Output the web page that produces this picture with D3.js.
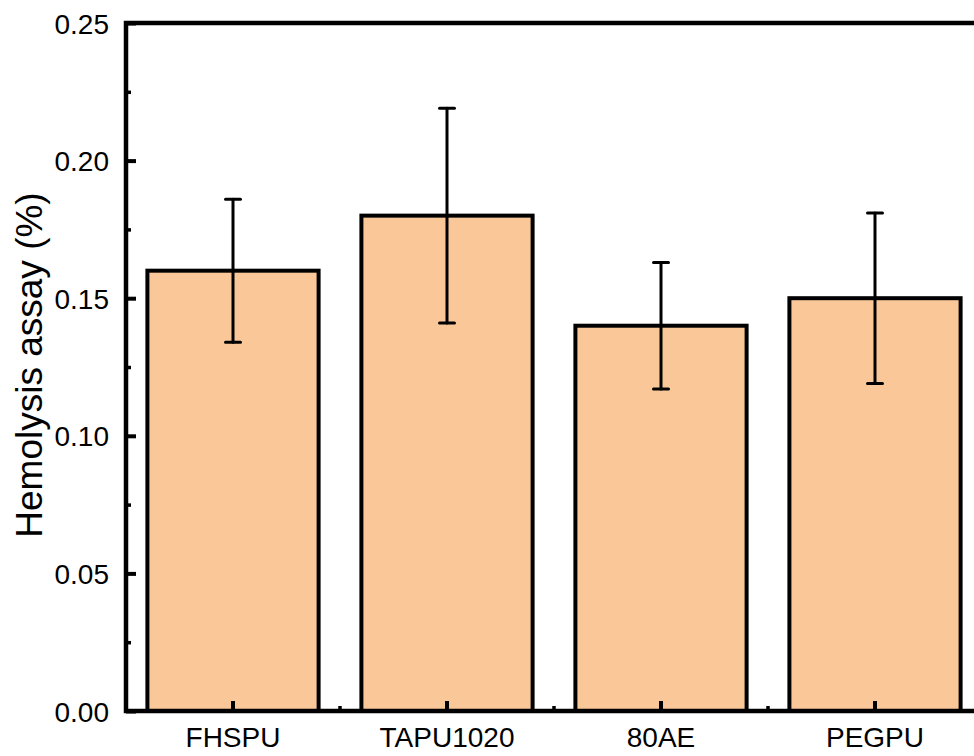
<!DOCTYPE html>
<html><head><meta charset="utf-8">
<script src="https://cdn.jsdelivr.net/npm/d3@7"></script>
<style>body{margin:0;background:#fff}svg{display:block}text{font-family:"Liberation Sans",Arial,sans-serif;fill:#000}</style>
</head><body>
<svg id="c" width="974" height="756"></svg>
<script>
const categories = ["FHSPU", "TAPU1020", "80AE", "PEGPU"];
const values = [0.16, 0.18, 0.14, 0.15];
const errors = [0.026, 0.039, 0.023, 0.031];
const yTicks = [0, 0.05, 0.10, 0.15, 0.20, 0.25];
const yMinorTicks = [0.025, 0.075, 0.125, 0.175, 0.225];

const svg = d3.select("#c");
const x0 = 126, x1 = 982, yTop = 23, yBot = 711;
const x = d3.scaleBand().domain(categories).range([x0, x1]).paddingInner(0.2).paddingOuter(0.1);
const y = d3.scaleLinear().domain([0, 0.25]).range([yBot, yTop]);

// bars
svg.selectAll("rect.bar").data(categories).join("rect")
  .attr("x", d => x(d)).attr("width", x.bandwidth())
  .attr("y", (d,i) => y(values[i])).attr("height", (d,i) => yBot - y(values[i]))
  .attr("fill", "#fac898").attr("stroke", "#000").attr("stroke-width", 4);

// error bars
const eb = svg.append("g").attr("stroke", "#000").attr("stroke-width", 3).attr("stroke-linecap", "round");
categories.forEach((c, i) => {
  const cx = x(c) + x.bandwidth() / 2;
  eb.append("line").attr("x1", cx).attr("x2", cx).attr("y1", y(values[i] + errors[i])).attr("y2", y(values[i] - errors[i]));
  [values[i] + errors[i], values[i] - errors[i]].forEach(v => {
    eb.append("line").attr("x1", cx - 7.5).attr("x2", cx + 7.5).attr("y1", y(v)).attr("y2", y(v));
  });
});

// frame
svg.append("rect").attr("x", x0).attr("y", yTop).attr("width", x1 - x0).attr("height", yBot - yTop)
  .attr("fill", "none").attr("stroke", "#000").attr("stroke-width", 4.5);

// y axis
const yAxis = d3.axisLeft(y).tickValues(yTicks).tickFormat(d3.format(".2f")).tickSizeInner(-10).tickSizeOuter(0).tickPadding(17);
const gy = svg.append("g").attr("transform", `translate(${x0},0)`).call(yAxis);
gy.select(".domain").remove();
gy.selectAll(".tick line").attr("stroke-width", 4);
gy.selectAll(".tick text").attr("font-size", 28).attr("dy", "0.36em");
const gym = svg.append("g").attr("transform", `translate(${x0},0)`).call(d3.axisLeft(y).tickValues(yMinorTicks).tickSizeInner(-5).tickSizeOuter(0).tickFormat(""));
gym.select(".domain").remove();
gym.selectAll(".tick line").attr("stroke-width", 3.5);

// x axis
const xAxis = d3.axisBottom(x).tickSizeInner(-10).tickSizeOuter(0).tickPadding(16);
const gx = svg.append("g").attr("transform", `translate(0,${yBot})`).call(xAxis);
gx.select(".domain").remove();
gx.selectAll(".tick line").attr("stroke-width", 4);
gx.selectAll(".tick text").attr("font-size", 28).attr("dy", "0.71em");
const boundaries = categories.slice(1).map(c => x(c) - x.step() * x.paddingInner() / 2);
svg.append("g").selectAll("line").data(boundaries).join("line")
  .attr("x1", d => d).attr("x2", d => d).attr("y1", yBot).attr("y2", yBot - 5)
  .attr("stroke", "#000").attr("stroke-width", 3.5);

// y label
svg.append("text").attr("transform", `translate(42,365) rotate(-90)`)
  .attr("text-anchor", "middle").attr("font-size", 37).text("Hemolysis assay (%)");
</script>
</body></html>
